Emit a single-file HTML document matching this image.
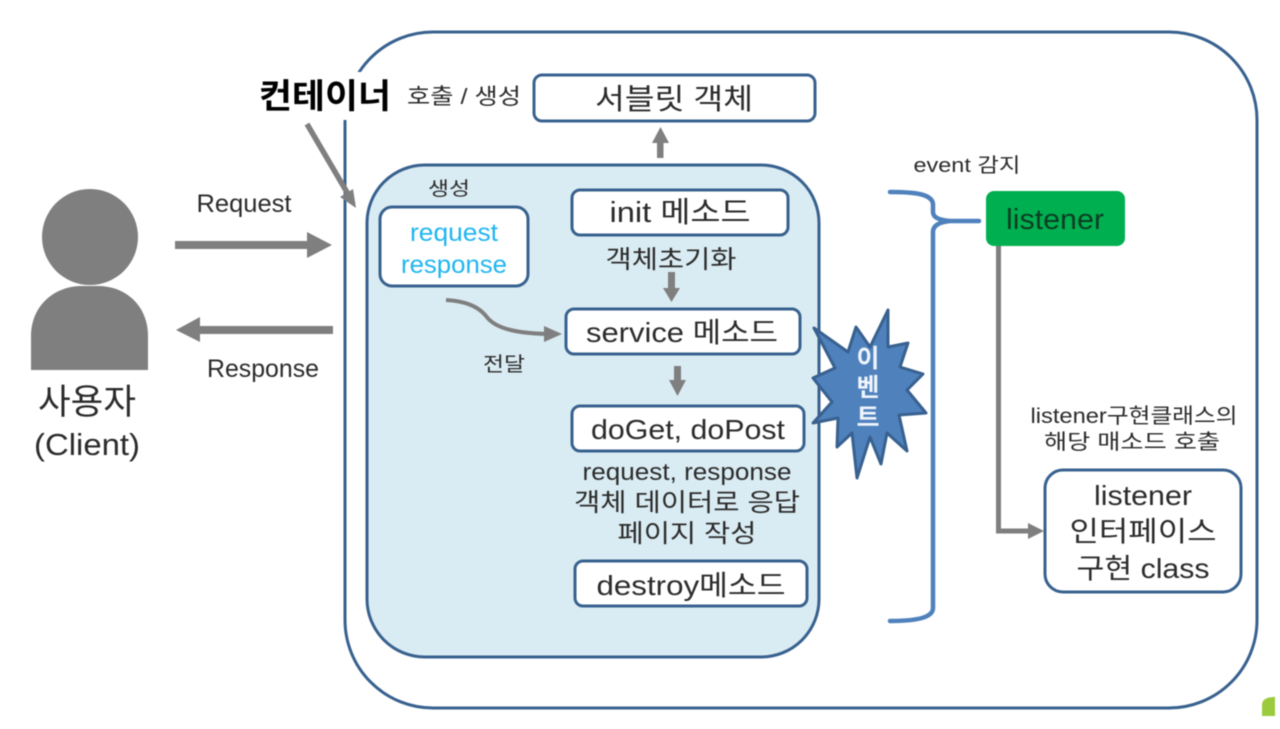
<!DOCTYPE html>
<html>
<head>
<meta charset="utf-8">
<style>
html,body{margin:0;padding:0;background:#fff;width:1280px;height:729px;overflow:hidden}
svg{display:block;filter:blur(.6px)}
text{font-family:"Liberation Sans","Noto Sans CJK KR",sans-serif;fill:#2b2b2b;text-anchor:middle}
</style>
</head>
<body>
<svg width="1280" height="729" viewBox="0 0 1280 729" xmlns="http://www.w3.org/2000/svg">
<rect width="1280" height="729" fill="#fff"/>

<!-- container -->
<rect x="345" y="32" width="912" height="676" rx="88" ry="88" fill="#fff" stroke="#38618f" stroke-width="3"/>
<!-- label background interrupts the container line -->
<rect x="256" y="72" width="140" height="48" fill="#fff"/>
<!-- servlet light area -->
<rect x="367" y="165" width="452" height="492" rx="58" ry="58" fill="#daecf3" stroke="#38618f" stroke-width="3"/>

<!-- user icon -->
<circle cx="90" cy="237" r="48" fill="#7f7f7f"/>
<path d="M31 370V336C31 306 54 286 82 286H98C126 286 148 306 148 336V370Z" fill="#7f7f7f"/>

<!-- boxes -->
<rect x="534" y="75" width="281" height="46" rx="8" fill="#fff" stroke="#38618f" stroke-width="3"/>
<rect x="380" y="207" width="148" height="79" rx="12" fill="#fff" stroke="#38618f" stroke-width="3"/>
<rect x="572" y="190" width="216" height="45" rx="8" fill="#fff" stroke="#38618f" stroke-width="3"/>
<rect x="566" y="309" width="234" height="45" rx="8" fill="#fff" stroke="#38618f" stroke-width="3"/>
<rect x="572" y="406" width="232" height="45" rx="8" fill="#fff" stroke="#38618f" stroke-width="3"/>
<rect x="575" y="561" width="232" height="45" rx="8" fill="#fff" stroke="#38618f" stroke-width="3"/>
<rect x="1045" y="470" width="196" height="122" rx="18" fill="#fff" stroke="#38618f" stroke-width="3"/>
<rect x="986" y="191" width="139" height="55" rx="8" fill="#00b050"/>

<!-- grey connectors -->
<g fill="#7f7f7f" stroke="none">
<path d="M175 241H307V232L332 245L307 258V249H175Z"/>
<path d="M333 326V334H200V342L176 330L200 317V326Z"/>
<path d="M657 158V143H652L660.500 127L669 143H663.500V158Z"/>
<path d="M668 272H675V288H680L671.500 302L663 288H668Z"/>
<path d="M674 366H681V380H686L677.500 396L669 380H674Z"/>
</g>
<path d="M307 124L348 194" stroke="#7f7f7f" stroke-width="5.500" fill="none"/>
<path d="M340 197L353 189L356 208Z" fill="#7f7f7f"/>
<path d="M446 300C465 301 478 306 486 316C496 330 520 333 546 334" stroke="#7f7f7f" stroke-width="4" fill="none"/>
<path d="M544 326L562 334L544 342Z" fill="#7f7f7f"/>
<path d="M998.500 246V531H1030" stroke="#7f7f7f" stroke-width="5" fill="none"/>
<path d="M1028 523L1044 531L1028 539Z" fill="#7f7f7f"/>

<!-- blue brace -->
<path d="M890 192C915 192 932 194 933 204V212C933 218 940 220 950 221H979M950 221C940 222 933 225 933 232V608C933 618 915 621 890 621" stroke="#4f81bd" stroke-width="4.500" fill="none" stroke-linecap="round"/>

<!-- starburst -->
<polygon points="814,328 848,352 856,327 870,347 888,310 888,347 908,343 900,367 923,374 907,390 926,413 899,415 907,451 887,433 881,464 870,437 857,478 852,433 837,447 838,418 813,423 832,402 813,378 835,368" fill="#4f81bd" stroke="#38618f" stroke-width="3" stroke-linejoin="round"/>

<!-- labels -->
<text x="325" y="108" font-size="34" font-weight="700" style="fill:#000" textLength="132" lengthAdjust="spacingAndGlyphs">컨테이너</text>
<text x="464" y="104" font-size="22" textLength="114" lengthAdjust="spacingAndGlyphs">호출 / 생성</text>
<text x="674" y="109" font-size="29" textLength="158" lengthAdjust="spacingAndGlyphs">서블릿 객체</text>
<text x="449" y="195" font-size="19" textLength="42" lengthAdjust="spacingAndGlyphs">생성</text>
<text x="454" y="241" font-size="25" style="fill:#1fb6f0" textLength="88" lengthAdjust="spacingAndGlyphs">request</text>
<text x="454" y="273" font-size="25" style="fill:#1fb6f0" textLength="106" lengthAdjust="spacingAndGlyphs">response</text>
<text x="680" y="222" font-size="29" textLength="141" lengthAdjust="spacingAndGlyphs">init 메소드</text>
<text x="671" y="268" font-size="25" textLength="131" lengthAdjust="spacingAndGlyphs">객체초기화</text>
<text x="682" y="342" font-size="28" textLength="192" lengthAdjust="spacingAndGlyphs">service 메소드</text>
<text x="504" y="371" font-size="20" textLength="42" lengthAdjust="spacingAndGlyphs">전달</text>
<text x="688" y="439" font-size="28" textLength="194" lengthAdjust="spacingAndGlyphs">doGet, doPost</text>
<text x="687" y="480" font-size="24" textLength="209" lengthAdjust="spacingAndGlyphs">request, response</text>
<text x="687" y="511" font-size="25" textLength="226" lengthAdjust="spacingAndGlyphs">객체 데이터로 응답</text>
<text x="687" y="542" font-size="25" textLength="139" lengthAdjust="spacingAndGlyphs">페이지 작성</text>
<text x="691" y="595" font-size="28" textLength="189" lengthAdjust="spacingAndGlyphs">destroy메소드</text>
<text x="244" y="212" font-size="25" textLength="95" lengthAdjust="spacingAndGlyphs">Request</text>
<text x="263" y="377" font-size="25" textLength="112" lengthAdjust="spacingAndGlyphs">Response</text>
<text x="87" y="414" font-size="35" textLength="98" lengthAdjust="spacingAndGlyphs">사용자</text>
<text x="87" y="455" font-size="31" textLength="106" lengthAdjust="spacingAndGlyphs">(Client)</text>
<text x="967" y="172" font-size="20" textLength="107" lengthAdjust="spacingAndGlyphs">event 감지</text>
<text x="1055" y="229" font-size="29" style="fill:#0b3d22" textLength="98" lengthAdjust="spacingAndGlyphs">listener</text>
<text x="1134" y="423" font-size="21" textLength="207" lengthAdjust="spacingAndGlyphs">listener구현클래스의</text>
<text x="1132" y="449" font-size="21" textLength="176" lengthAdjust="spacingAndGlyphs">해당 매소드 호출</text>
<text x="1143" y="505" font-size="28" textLength="98" lengthAdjust="spacingAndGlyphs">listener</text>
<text x="1143" y="541" font-size="28" textLength="147" lengthAdjust="spacingAndGlyphs">인터페이스</text>
<text x="1143" y="578" font-size="28" textLength="133" lengthAdjust="spacingAndGlyphs">구현 class</text>
<text x="868" y="367" font-size="25" font-weight="700" style="fill:#eef4fb">이</text>
<text x="868" y="396" font-size="25" font-weight="700" style="fill:#eef4fb">벤</text>
<text x="868" y="426" font-size="25" font-weight="700" style="fill:#eef4fb">트</text>

<!-- green corner mark -->
<path d="M1262 716V705C1262 700 1266 697 1275 697V716Z" fill="#9bcb3c"/>
</svg>
</body>
</html>
